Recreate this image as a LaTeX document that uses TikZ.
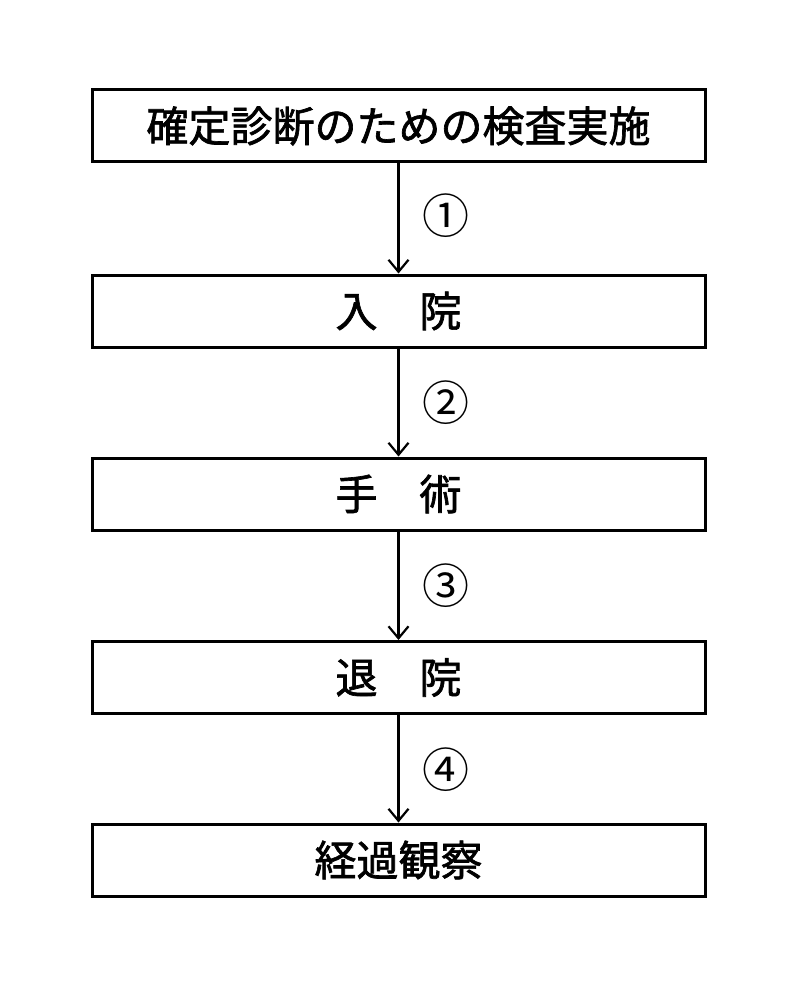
\documentclass[tikz,border=0pt]{standalone}
\usepackage{fontspec}
\setmainfont{Noto Sans CJK JP}
\newfontfamily\medfont{Noto Sans CJK JP}[UprightFeatures={FakeBold=1.6}]
\usetikzlibrary{arrows.meta}
\begin{document}
\begin{tikzpicture}[x=1pt,y=-1pt,
  box/.style={draw, line width=3pt, minimum width=613pt, minimum height=72pt, inner sep=0pt,
    font=\fontsize{42}{42}\medfont},
  arr/.style={line width=2.2pt, -{Straight Barb[length=12pt,width=20pt,line width=2.2pt]}},
  num/.style={font=\fontsize{47}{47}\selectfont}]
\useasboundingbox[fill=white] (0,0) rectangle (797,1000);
\node[box] (b1) at (398.5,126) {確定診断のための検査実施};
\node[box] (b2) at (398.5,311) {入　院};
\node[box] (b3) at (398.5,494) {手　術};
\node[box] (b4) at (398.5,677.5) {退　院};
\node[box] (b5) at (398.5,860) {経過観察};
\draw[arr] (b1.south) -- (b2.north);
\draw[arr] (b2.south) -- (b3.north);
\draw[arr] (b3.south) -- (b4.north);
\draw[arr] (b4.south) -- (b5.north);
\node[num] (n1) at (446,216) {①};
\node[num] (n2) at (446,403) {②};
\node[num] (n3) at (446,586) {③};
\node[num] (n4) at (446,770) {④};
\end{tikzpicture}
\end{document}
